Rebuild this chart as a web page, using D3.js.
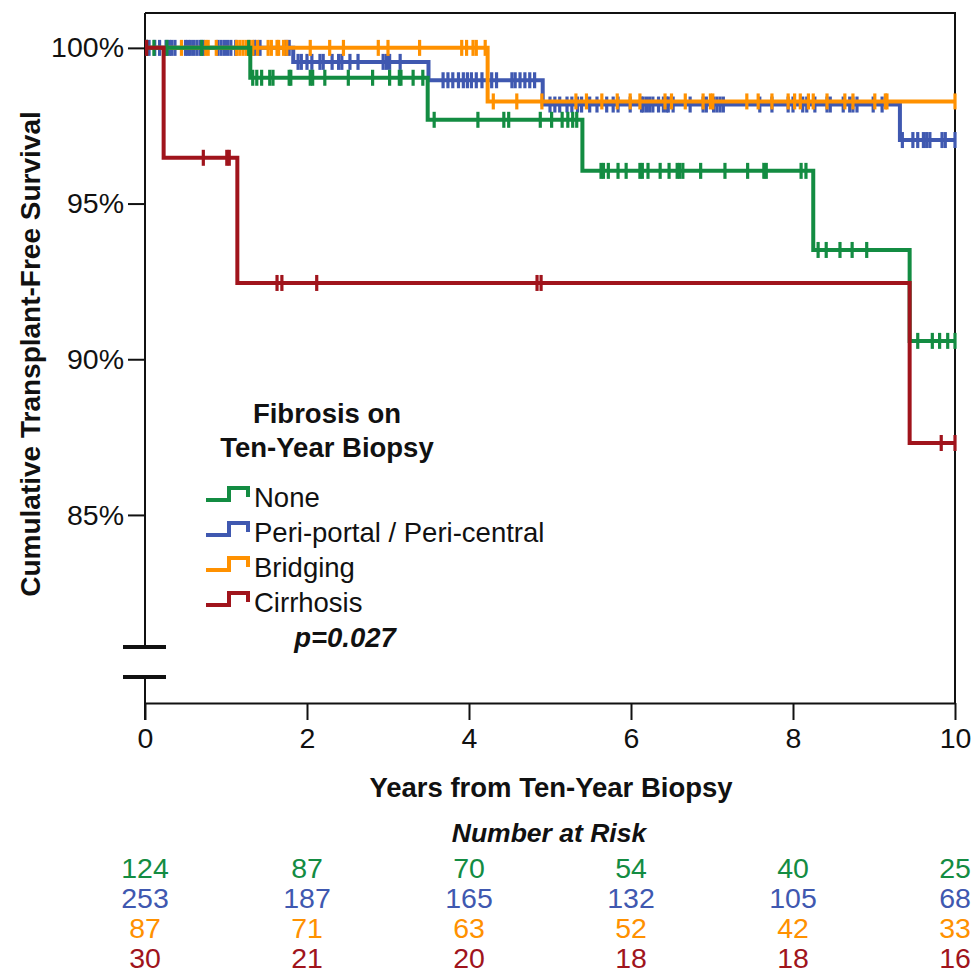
<!DOCTYPE html>
<html lang="en">
<head>
  <meta charset="UTF-8" />
  <title>Transplant-Free Survival by Fibrosis</title>
  <style>
    body { margin: 0; padding: 0; background: #fff; font-family: "Liberation Sans", Arial, sans-serif; }
    svg { display: block; }
    .axis text { font-family: "Liberation Sans", Arial, sans-serif; font-size: 28.5px; fill: #111; }
    .axis line, .axis path { stroke: #111; stroke-width: 2; }
  </style>
  <script src="https://d3js.org/d3.v7.min.js"></script>
</head>
<body>
  <svg width="974" height="977"></svg>

  <script>
    // groups and colours
    const groups = ["None", "Peri-portal / Peri-central", "Bridging", "Cirrhosis"];
    const colors = ["#138c42", "#3f58b0", "#ff9100", "#a0141c"];

    // step curves: event times (years) and survival (%) after each step
    const noneTimes = [0, 1.30, 3.49, 5.40, 8.25, 9.44, 10];
    const noneSurv  = [100, 99.04, 97.69, 96.05, 93.51, 90.59, 90.59];
    const periTimes = [0, 1.83, 3.50, 4.91, 9.32, 10];
    const periSurv  = [100, 99.55, 98.96, 98.18, 97.04, 97.04];
    const bridTimes = [0, 4.23, 10];
    const bridSurv  = [100, 98.28, 98.28];
    const cirrTimes = [0, 0.23, 1.14, 9.44, 10];
    const cirrSurv  = [100, 96.47, 92.45, 87.31, 87.31];

    // censored observations (years)
    const noneCensor = [0.02, 0.11, 0.27, 0.70, 1.28, 1.33, 1.38, 1.44, 1.54, 1.58, 1.78, 1.80, 2.04, 2.07, 2.22, 2.51, 2.81, 3.02, 3.14, 3.16, 3.31, 3.43,
      3.57, 4.11, 4.43, 4.49, 4.88, 5.02, 5.15, 5.22, 5.28, 5.33,
      5.63, 5.66, 5.72, 5.84, 5.94, 6.11, 6.14, 6.21, 6.36, 6.47, 6.57, 6.60, 6.64, 6.86, 7.16, 7.44, 7.64, 7.67, 8.10, 8.16,
      8.31, 8.41, 8.58, 8.73, 8.91, 9.54, 9.72, 9.81, 9.91, 10];
    const periCensor = [0.02, 0.05, 0.12, 0.18, 0.26, 0.30, 0.33, 0.37, 0.50, 0.53, 0.56, 0.60, 0.64, 0.68, 0.72, 0.90, 0.94, 0.98, 1.02, 1.06, 1.12, 1.35, 1.42, 1.74, 1.78,
      1.89, 1.93, 2.00, 2.06, 2.16, 2.20, 2.31, 2.39, 2.43, 2.53, 2.63, 2.94, 2.98, 3.02, 3.15,
      3.68, 3.74, 3.80, 3.87, 3.93, 3.98, 4.03, 4.09, 4.16, 4.28, 4.34, 4.53, 4.57, 4.63, 4.69, 4.75, 4.81,
      5.00, 5.06, 5.12, 5.21, 5.27, 5.34, 5.39, 5.49, 5.58, 5.70, 5.78, 5.84, 5.99, 6.13, 6.15, 6.19, 6.23, 6.27, 6.34, 6.40, 6.44, 6.46, 6.52, 6.73,
      6.89, 6.93, 7.02, 7.06, 7.10, 7.14, 7.59, 7.74, 7.94, 8.00, 8.12, 8.17, 8.27, 8.42, 8.46, 8.62, 8.70, 8.74, 8.79, 8.99, 9.10,
      9.35, 9.48, 9.54, 9.61, 9.65, 9.69, 9.84, 9.88, 10];
    const bridCensor = [0.45, 0.75, 0.78, 0.88, 1.13, 1.17, 1.21, 1.25, 1.29, 1.33, 1.39, 1.52, 1.56, 1.63, 1.65, 1.71, 1.75, 2.04, 2.28, 2.45, 2.88, 3.00, 3.39, 3.91, 3.97, 4.05, 4.09, 4.20,
      4.30, 4.59, 4.90, 5.32, 5.45, 5.64, 5.83, 5.99, 6.11, 6.42, 6.50, 6.67, 6.89, 6.98, 7.01, 7.43, 7.57, 7.74, 7.94, 8.02, 8.09, 8.19, 8.25, 8.42, 8.64, 8.74, 9.01, 9.14, 9.16, 10];
    const cirrCensor = [0.02, 0.72, 1.01, 1.04, 1.63, 1.69, 2.12, 4.84, 4.89, 9.83, 10];

    // number at risk table
    const riskYears = [0, 2, 4, 6, 8, 10];
    const noneRisk = [124, 87, 70, 54, 40, 25];
    const periRisk = [253, 187, 165, 132, 105, 68];
    const bridRisk = [87, 71, 63, 52, 42, 33];
    const cirrRisk = [30, 21, 20, 18, 18, 16];

    const yTicks = [100, 95, 90, 85];
    const xTicks = [0, 2, 4, 6, 8, 10];

    const curves = [
      { times: noneTimes, surv: noneSurv, censor: noneCensor, risk: noneRisk },
      { times: periTimes, surv: periSurv, censor: periCensor, risk: periRisk },
      { times: bridTimes, surv: bridSurv, censor: bridCensor, risk: bridRisk },
      { times: cirrTimes, surv: cirrSurv, censor: cirrCensor, risk: cirrRisk }
    ];
    curves.forEach((c, i) => { c.name = groups[i]; c.color = colors[i]; });

    const svg = d3.select("svg");
    const plotLeft = 145, plotRight = 955, plotTop = 13, plotBottom = 703;

    const x = d3.scaleLinear().domain([0, 10]).range([plotLeft, plotRight]);
    const y = d3.scaleLinear().domain([78.96, 101.12]).range([plotBottom, plotTop]);

    // frame
    svg.append("path")
      .attr("d", `M${plotLeft},${plotTop}H${plotRight}V${plotBottom}`)
      .attr("fill", "none").attr("stroke", "#111").attr("stroke-width", 2);

    // left axis with break
    const breakTop = 647, breakBot = 677;
    svg.append("line").attr("x1", plotLeft).attr("x2", plotLeft).attr("y1", plotTop).attr("y2", breakTop)
      .attr("stroke", "#111").attr("stroke-width", 2);
    svg.append("line").attr("x1", plotLeft).attr("x2", plotLeft).attr("y1", breakBot).attr("y2", plotBottom + 17)
      .attr("stroke", "#111").attr("stroke-width", 2);
    [breakTop, breakBot].forEach(by => {
      svg.append("line").attr("x1", plotLeft - 22).attr("x2", plotLeft + 21).attr("y1", by).attr("y2", by)
        .attr("stroke", "#111").attr("stroke-width", 4);
    });

    const yAxis = svg.append("g").attr("class", "axis")
      .attr("transform", `translate(${plotLeft},0)`)
      .call(d3.axisLeft(y).tickValues(yTicks).tickFormat(d => d + "%").tickSize(17).tickPadding(4));
    yAxis.select(".domain").remove();

    svg.append("g").attr("class", "axis")
      .attr("transform", `translate(0,${plotBottom})`)
      .call(d3.axisBottom(x).tickValues(xTicks).tickSize(17).tickSizeOuter(0).tickPadding(8));

    // survival curves
    const line = d3.line()
      .x(d => x(d[0]))
      .y(d => y(d[1]))
      .curve(d3.curveStepAfter);

    const stepAt = (c, t) => {
      let s = c.surv[0];
      c.times.forEach((tt, i) => { if (tt <= t) s = c.surv[i]; });
      return s;
    };

    const drawOrder = [1, 2, 0, 3];
    drawOrder.forEach(i => {
      const c = curves[i];
      const g = svg.append("g");
      g.append("path")
        .datum(c.times.map((t, k) => [t, c.surv[k]]))
        .attr("d", line)
        .attr("fill", "none")
        .attr("stroke", c.color)
        .attr("stroke-width", 4);
      g.selectAll("line.censor")
        .data(c.censor)
        .join("line")
        .attr("class", "censor")
        .attr("x1", d => x(d)).attr("x2", d => x(d))
        .attr("y1", d => y(stepAt(c, d)) - 8)
        .attr("y2", d => y(stepAt(c, d)) + 8)
        .attr("stroke", c.color)
        .attr("stroke-width", 3.2);
    });

    // y axis title
    svg.append("text")
      .attr("transform", `translate(40,354) rotate(-90)`)
      .attr("text-anchor", "middle")
      .attr("font-size", 28).attr("font-weight", "bold").attr("fill", "#111")
      .text("Cumulative Transplant-Free Survival");

    // x axis title
    svg.append("text")
      .attr("x", 551).attr("y", 797)
      .attr("text-anchor", "middle")
      .attr("font-size", 27.5).attr("font-weight", "bold").attr("fill", "#111")
      .text("Years from Ten-Year Biopsy");

    // legend
    const legend = svg.append("g");
    ["Fibrosis on", "Ten-Year Biopsy"].forEach((t, i) => {
      legend.append("text")
        .attr("x", 327).attr("y", 423 + i * 34)
        .attr("text-anchor", "middle")
        .attr("font-size", 27.5).attr("font-weight", "bold").attr("fill", "#111")
        .text(t);
    });
    curves.forEach((c, i) => {
      const ly = 497 + i * 35;
      legend.append("path")
        .attr("d", `M206,${ly + 3}H229V${ly - 9}H248V${ly}`)
        .attr("fill", "none").attr("stroke", c.color).attr("stroke-width", 4);
      legend.append("text")
        .attr("x", 254).attr("y", ly + 10)
        .attr("font-size", 27.5).attr("fill", "#111")
        .text(c.name);
    });
    legend.append("text")
      .attr("x", 345).attr("y", 647)
      .attr("text-anchor", "middle")
      .attr("font-size", 27.5).attr("font-weight", "bold").attr("font-style", "italic").attr("fill", "#111")
      .text("p=0.027");

    // number at risk
    svg.append("text")
      .attr("x", 549).attr("y", 842)
      .attr("text-anchor", "middle")
      .attr("font-size", 26.5).attr("font-weight", "bold").attr("font-style", "italic").attr("fill", "#111")
      .text("Number at Risk");

    curves.forEach((c, i) => {
      svg.append("g").selectAll("text")
        .data(c.risk)
        .join("text")
        .attr("x", (d, k) => x(riskYears[k]))
        .attr("y", 878 + i * 30)
        .attr("text-anchor", "middle")
        .attr("font-size", 28.5)
        .attr("fill", c.color)
        .text(d => d);
    });
  </script>
</body>
</html>
